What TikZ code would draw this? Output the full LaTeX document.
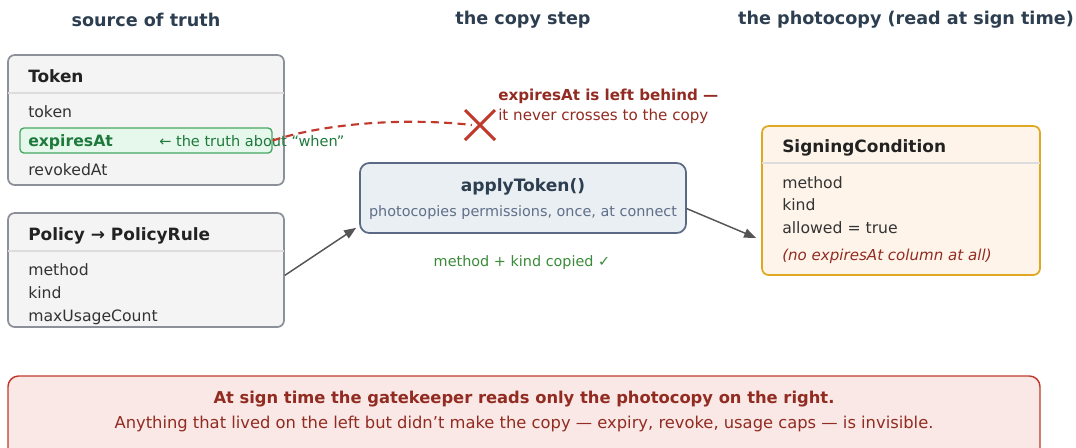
\documentclass[tikz,border=0pt]{standalone}
\usepackage{fontspec}
\setmainfont{DejaVu Sans}
\usetikzlibrary{arrows.meta,calc}
\definecolor{hdr}{HTML}{2C3E50}
\definecolor{ttl}{HTML}{222222}
\definecolor{body}{HTML}{333333}
\definecolor{grayfill}{HTML}{F4F4F4}
\definecolor{graystroke}{HTML}{8C9099}
\definecolor{sep}{HTML}{DDDDDD}
\definecolor{hlfill}{HTML}{E6F7EC}
\definecolor{hlstroke}{HTML}{45A863}
\definecolor{green}{HTML}{1E7A3C}
\definecolor{lightgreen}{HTML}{3A8A3A}
\definecolor{bluefill}{HTML}{EAEFF4}
\definecolor{bluestroke}{HTML}{5A6A85}
\definecolor{bluetext}{HTML}{5F6F88}
\definecolor{orfill}{HTML}{FEF4EA}
\definecolor{orstroke}{HTML}{E0A820}
\definecolor{darkred}{HTML}{922B21}
\definecolor{redx}{HTML}{C0392B}
\definecolor{pinkfill}{HTML}{F9E8E5}
\definecolor{arrowgray}{HTML}{555555}
\begin{document}
\begin{tikzpicture}[x=0.75pt,y=-0.75pt,
  box/.style={draw, rounded corners=5pt, line width=1.3pt, inner sep=0pt},
  header/.style={font=\fontsize{13.2pt}{15pt}\selectfont\bfseries, text=hdr},
  boxtitle/.style={anchor=mid west, font=\fontsize{12.7pt}{15pt}\selectfont\bfseries, text=ttl, inner sep=0pt},
  field/.style={anchor=mid west, font=\fontsize{11.75pt}{14pt}\selectfont, text=body, inner sep=0pt},
  arr/.style={-{Triangle[length=9pt,width=7pt]}, line width=1.1pt, draw=arrowgray},
]
\useasboundingbox (0,0) rectangle (1076,447);
\clip (0,0) rectangle (1076,447);

% column headers
\node[header] (h1) at (146,20) {source of truth};
\node[header] (h2) at (523,20) {the copy step};
\node[header] (h3) at (906,20) {the photocopy (read at sign time)};

% Token box
\node[box, fill=grayfill, draw=graystroke, minimum width=276*0.75pt, minimum height=130*0.75pt] (token) at (146,120) {};
\draw[sep, line width=1pt] (8,93) -- (284,93);
\node[boxtitle] (tokent) at (28,79) {Token};
\node[field] (f1) at (28,114) {token};
\node[draw=hlstroke, fill=hlfill, line width=1pt, rounded corners=3pt, minimum width=252*0.75pt, minimum height=25*0.75pt, inner sep=0pt] (expires) at (146,140.5) {};
\node[field, font=\fontsize{11.75pt}{14pt}\selectfont\bfseries, text=green] (f2) at (28,142.5) {expiresAt};
\node[field, font=\fontsize{10.9pt}{13pt}\selectfont, text=green] (truth) at (159,142.5) {← the truth about “when”};
\node[field] (f3) at (28,172) {revokedAt};

% Policy box
\node[box, fill=grayfill, draw=graystroke, minimum width=276*0.75pt, minimum height=114*0.75pt] (policy) at (146,270) {};
\draw[sep, line width=1pt] (8,251) -- (284,251);
\node[boxtitle] (policyt) at (28,237) {Policy → PolicyRule};
\node[field] (p1) at (28,272) {method};
\node[field] (p2) at (28,295) {kind};
\node[field] (p3) at (28,318) {maxUsageCount};

% applyToken box
\node[box, fill=bluefill, draw=bluestroke, rounded corners=7pt, minimum width=326*0.75pt, minimum height=70*0.75pt] (apply) at (523,198) {};
\node[font=\fontsize{12.8pt}{15pt}\selectfont\bfseries, text=hdr, inner sep=0pt, anchor=mid] (applyt) at (523,188) {applyToken()};
\node[font=\fontsize{10.8pt}{13pt}\selectfont, text=bluetext, inner sep=0pt, anchor=mid] (applys) at (523,213) {photocopies permissions, once, at connect};
\node[font=\fontsize{10.8pt}{13pt}\selectfont, text=lightgreen, inner sep=0pt, anchor=mid] (copied) at (522,263) {method + kind copied ✓};

% SigningCondition box
\node[box, fill=orfill, draw=orstroke, minimum width=278*0.75pt, minimum height=149*0.75pt] (sign) at (901,200.5) {};
\draw[sep, line width=1pt] (762,163) -- (1040,163);
\node[boxtitle] (signt) at (782,149) {SigningCondition};
\node[field] (s1) at (782,185) {method};
\node[field] (s2) at (782,207) {kind};
\node[field] (s3) at (782,230) {allowed = true};
\node[field, font=\fontsize{11.3pt}{13pt}\selectfont\itshape, text=darkred] (s4) at (782,257) {(no expiresAt column at all)};

% arrows
\draw[arr] ([yshift=-4pt]policy.east) -- ([shift={(-3,-6)}]apply.south west);
\draw[arr] ([yshift=-8pt]apply.east) -- ([shift={(-5,-38)}]sign.south west);

% dashed line and cross
\coordinate (cross) at (480,125);
\draw[redx, line width=1.6pt, dash pattern=on 6pt off 4pt] (expires.east) .. controls (330,122) and (410,118) .. ($(cross)+(-8,0)$);
\draw[redx, line width=2.2pt] ($(cross)+(-15,-15)$) -- ($(cross)+(15,15)$) ($(cross)+(-15,15)$) -- ($(cross)+(15,-15)$);
\node[field, font=\fontsize{11.35pt}{13pt}\selectfont\bfseries, text=darkred] (lb1) at (498,96.5) {expiresAt is left behind —};
\node[field, font=\fontsize{11.35pt}{13pt}\selectfont, text=darkred] (lb2) at (498,116.5) {it never crosses to the copy};

% bottom box
\node[box, fill=pinkfill, draw=redx, line width=1.1pt, rounded corners=8pt, minimum width=1032*0.75pt, minimum height=90*0.75pt] (note) at (524,421) {};
\node[font=\fontsize{12.25pt}{15pt}\selectfont\bfseries, text=darkred, inner sep=0pt, anchor=mid] (n1) at (524,400) {At sign time the gatekeeper reads only the photocopy on the right.};
\node[font=\fontsize{12.25pt}{15pt}\selectfont, text=darkred, inner sep=0pt, anchor=mid] (n2) at (524,425) {Anything that lived on the left but didn’t make the copy — expiry, revoke, usage caps — is invisible.};
\end{tikzpicture}
\end{document}
